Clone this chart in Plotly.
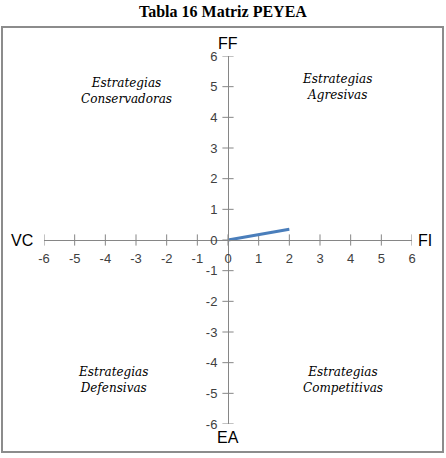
import plotly.graph_objects as go

# Data
line_x = [0, 2]
line_y = [0, 0.35]
ticks = [-6, -5, -4, -3, -2, -1, 0, 1, 2, 3, 4, 5, 6]
tick_text = ["-6", "-5", "-4", "-3", "-2", "-1", "0", "1", "2", "3", "4", "5", "6"]
title_text = "Tabla 16 Matriz PEYEA"
quad_labels = ["Estrategias<br>Conservadoras", "Estrategias<br>Agresivas",
               "Estrategias<br>Defensivas", "Estrategias<br>Competitivas"]
quad_x = [-3.30, 3.55, -3.75, 3.75]
quad_y = [4.86, 5.0, -4.57, -4.57]
axis_names = ["VC", "FI", "FF", "EA"]
axis_name_px = [22, 425, 228, 228]
axis_name_py = [240, 240, 43, 437]

W, H = 446, 458
L, R, T, B = 44, 34, 56, 34
pw, ph = W - L - R, H - T - B

def px2paper_x(px):
    return (px - L) / pw

def px2paper_y(py):
    return (H - B - py) / ph

axcol = "#868686"
fig = go.Figure()

# cross tick marks
fig.add_trace(go.Scatter(x=ticks, y=[0] * len(ticks), mode="markers",
                         marker=dict(symbol="line-ns", size=8,
                                     line=dict(color=axcol, width=1)),
                         hoverinfo="skip", showlegend=False))
fig.add_trace(go.Scatter(x=[0] * len(ticks), y=ticks, mode="markers",
                         marker=dict(symbol="line-ew", size=8,
                                     line=dict(color=axcol, width=1)),
                         hoverinfo="skip", showlegend=False))

fig.add_trace(go.Scatter(x=line_x, y=line_y, mode="lines",
                         line=dict(color="#4a7ebb", width=3),
                         showlegend=False))

tickfont = dict(family="Liberation Sans, Arial", size=13, color="#404040")
fig.update_layout(
    width=W, height=H,
    margin=dict(l=L, r=R, t=T, b=B),
    paper_bgcolor="white", plot_bgcolor="white",
    xaxis=dict(range=[-6, 6], tickvals=ticks, ticktext=tick_text,
               showgrid=False, zeroline=False,
               showline=True, linecolor=axcol, linewidth=1,
               anchor="free", position=0.5, ticks="", tickfont=tickfont,
               ticklabelstandoff=6),
    yaxis=dict(range=[-6, 6], tickvals=ticks, ticktext=tick_text,
               showgrid=False, zeroline=False,
               showline=True, linecolor=axcol, linewidth=1,
               anchor="free", position=0.5, ticks="", tickfont=tickfont,
               ticklabelstandoff=8),
)

fig.add_shape(type="rect", xref="paper", yref="paper",
              x0=px2paper_x(2), x1=px2paper_x(443),
              y0=px2paper_y(452), y1=px2paper_y(27),
              line=dict(color="#8c8c8c", width=2), layer="below")

fig.add_annotation(text="<b>" + title_text + "</b>", xref="paper", yref="paper",
                   x=px2paper_x(223), y=px2paper_y(11), showarrow=False,
                   xanchor="center", yanchor="middle",
                   font=dict(family="Liberation Serif, Times New Roman", size=16, color="black"))

for t, x, y in zip(quad_labels, quad_x, quad_y):
    fig.add_annotation(text="<i>" + t + "</i>", x=x, y=y, showarrow=False,
                       xanchor="center", yanchor="middle",
                       font=dict(family="DejaVu Serif", size=12, color="black"))

for t, px, py in zip(axis_names, axis_name_px, axis_name_py):
    fig.add_annotation(text=t, xref="paper", yref="paper",
                       x=px2paper_x(px), y=px2paper_y(py), showarrow=False,
                       xanchor="center", yanchor="middle",
                       font=dict(family="Liberation Sans, Arial", size=16, color="black"))

fig.write_html("out.html")
